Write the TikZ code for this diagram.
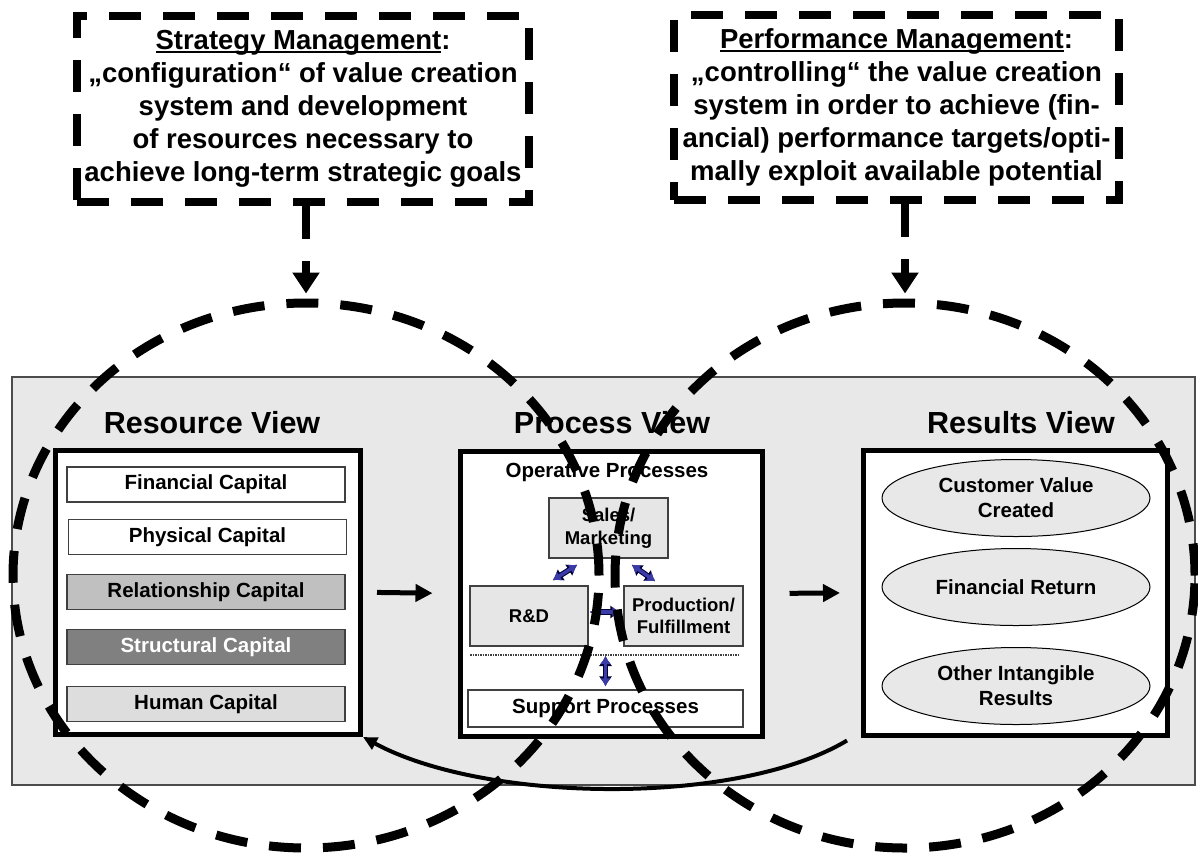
\documentclass[tikz,border=0pt]{standalone}
\usepackage{fontspec}
\setmainfont{Liberation Sans}
\usetikzlibrary{arrows.meta,calc,shapes.geometric}

\definecolor{panelgray}{HTML}{E8E8E8}
\definecolor{relgray}{HTML}{C0C0C0}
\definecolor{structgray}{HTML}{808080}
\definecolor{humangray}{HTML}{DDDDDD}
\definecolor{procgray}{HTML}{E6E6E6}
\definecolor{linkblue}{HTML}{3A3AA8}
\definecolor{edgegray}{HTML}{404040}

% bold text at a given size / line distance
\newcommand\fsz[2]{\fontsize{#1}{#2}\selectfont\bfseries}
% underline drawn just below the baseline, crossing the descenders
\newcommand\baseul[1]{\setbox0\hbox{#1}\rlap{\rule[-3pt]{\wd0}{2pt}}\box0}

\begin{document}
\begin{tikzpicture}[x=1pt,y=-1pt,
  mgmtbox/.style={draw, line width=8pt, dash pattern=on 32pt off 22pt,
    inner sep=0pt, align=center, font=\fsz{27.5}{33}},
  mgmtscope/.style={ellipse, draw, line width=9pt, dash pattern=on 32pt off 22pt,
    inner sep=0pt},
  mgmtlink/.style={line width=8pt, dash pattern=on 33pt off 22pt,
    -{Triangle[length=21pt,width=26pt]}, shorten >=5pt},
  viewbox/.style={draw, line width=5pt, fill=white, inner sep=0pt},
  viewtitle/.style={font=\fsz{30.5}{36}},
  capital/.style={draw=edgegray, line width=1.5pt, minimum width=278pt,
    minimum height=35pt, inner sep=0pt, font=\fsz{20.5}{24}},
  proc/.style={draw=edgegray, line width=1.5pt, fill=procgray, inner sep=0pt,
    align=center, font=\fsz{18.5}{22.5}},
  result/.style={ellipse, draw, line width=1pt, fill=panelgray,
    minimum width=268pt, minimum height=77pt, inner sep=0pt, align=center,
    font=\fsz{20.5}{25}},
  flow/.style={line width=5pt, -{Triangle[length=17pt,width=17pt]}},
  link/.style={preaction={draw=black!80!blue, line width=5.5pt,
      arrows={Latex[length=10pt,width=14pt]-Latex[length=10pt,width=14pt]}},
    draw=linkblue, line width=3.5pt,
    {Latex[length=8pt,width=11pt]}-{Latex[length=8pt,width=11pt]}},
  feedback/.style={line width=4pt, -{Triangle[length=14pt,width=13pt]}},
  sepline/.style={draw=edgegray, line width=1.5pt, dash pattern=on 1.5pt off 1pt}
]
\useasboundingbox (0,0) rectangle (1198,854);

% grey panel holding the three views
\node[draw=gray!60!black, line width=1.5pt, fill=panelgray, inner sep=0pt,
  minimum width=1183pt, minimum height=408pt] (panel) at (603.5,581) {};

% view titles
\node[viewtitle] (restitle) at (212,423) {Resource View};
\node[viewtitle] (proctitle) at (612,423) {Process View};
\node[viewtitle] (outtitle) at (1021,423) {Results View};

% view boxes
\node[viewbox, minimum width=305pt, minimum height=284.5pt] (resource) at (208,592.25) {};
\node[viewbox, minimum width=302pt, minimum height=285pt] (process) at (611,593.5) {};
\node[viewbox, minimum width=304pt, minimum height=284.5pt] (results) at (1015.5,592.75) {};

% resource view: capitals
\node[capital, fill=white] (fin) at (206,484.5) {Financial Capital};
\node[capital, fill=white] (phys) at (207.5,537) {Physical Capital};
\node[capital, fill=relgray] (rel) at (206,592) {Relationship Capital};
\node[capital, fill=structgray, text=white] (struct) at (206,647) {Structural Capital};
\node[capital, fill=humangray] (human) at (206,704) {Human Capital};

% process view
\node[font=\fsz{20.5}{24}] (operative) at (607,472) {Operative Processes};
\node[proc, minimum width=119pt, minimum height=60pt] (sales) at (608.5,528) {Sales/\\Marketing};
\node[proc, minimum width=118pt, minimum height=60pt] (rd) at (529,616) {R\&D};
\node[proc, minimum width=119pt, minimum height=60pt] (prod) at (683.5,616) {Production/\\Fulfillment};
\coordinate (sepL) at (470,655);
\coordinate (sepR) at (740,655);
\draw[sepline] (sepL) -- (sepR);
\node[proc, fill=white, font=\fsz{20.5}{24}, minimum width=275pt, minimum height=37pt]
  (support) at (605.5,708.5) {Support Processes};
\coordinate (sepmid) at (605.5,656);

\draw[link] ($(rd.north east)+(-36,-5)$) -- ($(sales.south west)+(29,6)$);
\draw[link] ($(sales.south east)+(-37,6)$) -- ($(prod.north west)+(32,-4)$);
\draw[link] ($(rd.east)+(1,-4)$) -- ($(prod.west)+(-3,-4)$);
\draw[link] (sepmid) -- ($(support.north)+(0,-3)$);

% results view
\node[result] (customer) at (1016,498) {Customer Value\\Created};
\node[result] (return) at (1016,587) {Financial Return};
\node[result] (intangible) at (1016,686) {Other Intangible\\Results};

% flow between the views
\draw[flow, shorten <=14pt, shorten >=25pt] (resource.east) -- (process.west);
\draw[flow, shorten <=25pt, shorten >=21pt] (process.east) -- (results.west);

% feedback from results back to resources
\coordinate (fbstart) at ($(results.south west)+(-14,3)$);
\draw[feedback] (fbstart) .. controls +(-110,66) and +(122,66) .. (resource.south east);

% management scopes
\node[mgmtscope, minimum width=586pt, minimum height=545pt] (stratscope) at (306,575.5) {};
\node[mgmtscope, minimum width=580pt, minimum height=545pt] (perfscope) at (905,575.5) {};

\node[mgmtbox, minimum width=452pt, minimum height=186pt] (strat) at (303,109)
  {\baseul{Strategy Management}:\\
   „configuration“ of value creation\\
   system and development\\
   of resources necessary to\\
   achieve long-term strategic goals};
\node[mgmtbox, minimum width=445pt, minimum height=185pt] (perf) at (896.5,107.5)
  {\baseul{Performance Management}:\\
   „controlling“ the value creation\\
   system in order to achieve (fin-\\
   ancial) performance targets/opti-\\
   mally exploit available potential};

\draw[mgmtlink] (stratscope.north |- strat.south) -- (stratscope.north);
\draw[mgmtlink] (perfscope.north |- perf.south) -- (perfscope.north);
\end{tikzpicture}
\end{document}
